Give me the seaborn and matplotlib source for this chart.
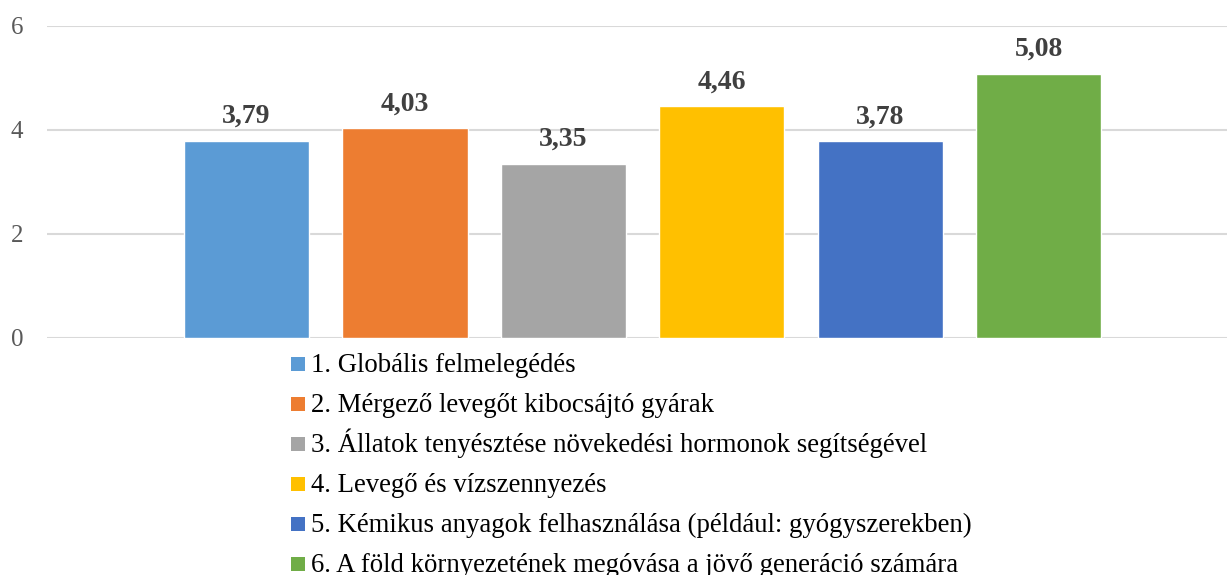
import matplotlib
matplotlib.use("Agg")
import matplotlib.pyplot as plt
import seaborn as sns
import pandas as pd
from matplotlib.patches import Rectangle

categories = [
    "1. Globális felmelegédés",
    "2. Mérgező levegőt kibocsájtó gyárak",
    "3. Állatok tenyésztése növekedési hormonok segítségével",
    "4. Levegő és vízszennyezés",
    "5. Kémikus anyagok felhasználása (például: gyógyszerekben)",
    "6. A föld környezetének megóvása a jövő generáció számára",
]
values = [3.79, 4.03, 3.35, 4.46, 3.78, 5.08]
colors = ["#5B9BD5", "#ED7D31", "#A5A5A5", "#FFC000", "#4472C4", "#70AD47"]
yticks = [0, 2, 4, 6]

sns.set_theme(style="white")
plt.rcParams["font.family"] = ["Liberation Serif", "DejaVu Serif"]

df = pd.DataFrame({"cat": categories, "val": values})

W, H = 1227, 575
fig = plt.figure(figsize=(W / 100, H / 100), dpi=100)
ax = fig.add_axes([47 / W, 237 / H, 1 - 47 / W, (549 - 237) / H])

sns.barplot(data=df, x="cat", y="val", hue="cat", palette=colors,
            dodge=False, width=0.79, ax=ax, legend=False, saturation=1)

for cont in ax.containers:
    labs = [f"{v:.2f}".replace(".", ",") for v in cont.datavalues]
    ax.bar_label(cont, labels=labs, padding=8.5, fontsize=20, fontweight="bold",
                 color="#404040")

ax.set_ylim(0, 6)
ax.set_xlim(-1.26, 6.19)
ax.set_yticks(yticks)
ax.set_yticklabels([str(t) for t in yticks], fontsize=18, color="#595959")
ax.set_xticks([])
ax.set_xlabel("")
ax.set_ylabel("")
ax.tick_params(axis="y", length=0, pad=17)
for s in ax.spines.values():
    s.set_visible(False)
ax.grid(axis="y", color="#D9D9D9", linewidth=1.5)
ax.set_axisbelow(True)

# legend (drawn row by row for even spacing)
x_sq, sq, x_txt = 291, 14, 311
y_sq0, y_base0, dy = 364, 372, 40
for i, (cat, col) in enumerate(zip(categories, colors)):
    yc = y_sq0 + dy * i
    fig.add_artist(Rectangle((x_sq / W, 1 - (yc + sq / 2) / H), sq / W, sq / H,
                             transform=fig.transFigure, facecolor=col,
                             edgecolor="none"))
    fig.text(x_txt / W, 1 - (y_base0 + dy * i) / H, cat, fontsize=19.3,
             color="#000000", ha="left", va="baseline")

fig.savefig("out.png", dpi=100)
